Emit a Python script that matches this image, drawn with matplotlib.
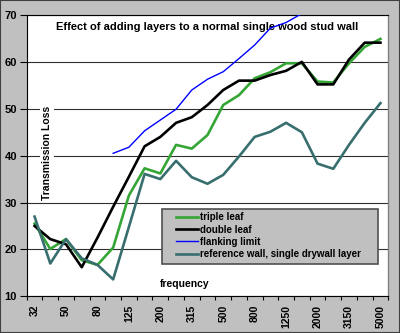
import numpy as np
import matplotlib
matplotlib.use("Agg")
import matplotlib.pyplot as plt
from matplotlib.patches import Rectangle

freqs = ["32", "40", "50", "63", "80", "100", "125", "160", "200", "250", "315", "400",
         "500", "630", "800", "1000", "1250", "1600", "2000", "2500", "3150", "4000", "5000"]
triple_leaf = [25.5, 20.1, 22.2, 17.7, 16.7, 20.4, 31.5, 37.3, 36.2, 42.3, 41.5, 44.4,
               50.8, 52.9, 56.5, 57.8, 59.7, 59.7, 55.8, 55.6, 59.7, 63.2, 64.9]
double_leaf = [25.0, 22.2, 21.1, 16.2, 22.5, 29.1, 35.5, 42.0, 44.0, 47.0, 48.2, 50.8,
               54.0, 56.0, 56.0, 57.2, 58.1, 60.0, 55.2, 55.2, 60.5, 64.1, 64.1]
flanking = [np.nan, np.nan, np.nan, np.nan, np.nan, 40.5, 41.8, 45.3, 47.6, 49.9, 54.0, 56.3,
            57.9, 60.7, 63.6, 67.2, 68.4, 70.3, np.nan, np.nan, np.nan, np.nan, np.nan]
reference = [27.0, 17.0, 22.2, 18.1, 16.7, 13.6, 24.8, 36.1, 35.0, 38.9, 35.4, 34.0,
             35.9, 39.8, 44.0, 45.1, 47.0, 45.0, 38.3, 37.2, 42.3, 47.0, 51.2]
yticks = [10, 20, 30, 40, 50, 60, 70]

plt.rcParams['font.family'] = ['Liberation Sans', 'DejaVu Sans']
plt.rcParams['font.weight'] = 'bold'

bg = '#c0c0c0'
W, H = 400.0, 333.0
fig = plt.figure(figsize=(4.0, 3.33), dpi=100, facecolor=bg)
L, R, T, B = 26.7, 388.3, 15.0, 296.3
ax = fig.add_axes([L/W, 1-B/H, (R-L)/W, (B-T)/H])
ax.set_facecolor('white')

def ax_xy(px, py):
    return ((px-L)/(R-L), (B-py)/(B-T))

x = np.arange(len(freqs))
ax.plot(x, triple_leaf, color='#35a535', lw=1.9, label='triple leaf', zorder=3)
ax.plot(x, double_leaf, color='black', lw=1.9, label='double leaf', zorder=4)
ax.plot(x, flanking, color='#0000ff', lw=1.0, label='flanking limit', zorder=5)
ax.plot(x, reference, color='#386e6e', lw=1.9, label='reference wall, single drywall layer', zorder=6)

ax.set_xlim(-0.5, len(freqs)-0.5)
ax.set_ylim(10, 70)
ax.set_yticks(yticks)
ax.set_yticklabels([str(v) for v in yticks], fontsize=8, fontweight='bold')
ax.yaxis.grid(True, color='#303030', lw=0.8)
ax.set_axisbelow(True)

ax.set_xticks(x[::2])
ax.set_xticklabels(freqs[::2], rotation=90, fontsize=7.5, fontweight='bold')
ax.set_xticks(np.arange(-0.5, len(freqs)), minor=True)
ax.tick_params(axis='x', which='major', length=0, pad=6)
ax.tick_params(axis='x', which='minor', length=3, width=0.8, direction='out')
ax.tick_params(axis='y', length=5, width=0.8, pad=2)

for s in ['left', 'bottom', 'top']:
    ax.spines[s].set_color('black')
    ax.spines[s].set_linewidth(0.8)
ax.spines['right'].set_color('#808080')
ax.spines['right'].set_linewidth(1.0)

ax.text(0.5, 0.957, 'Effect of adding layers to a normal single wood stud wall',
        transform=ax.transAxes, ha='center', va='center', fontsize=8, fontweight='bold')
ax.text(*ax_xy(47, 153), 'Transmission Loss', transform=ax.transAxes, rotation=90,
        ha='center', va='center', fontsize=7.5, fontweight='bold',
        bbox=dict(facecolor='white', edgecolor='none', pad=1.5), zorder=2)
ax.text(*ax_xy(185, 284), 'frequency', transform=ax.transAxes,
        ha='center', va='center', fontsize=7.5, fontweight='bold')

# legend frame
x0, y0 = ax_xy(162, 263.5)
x1, y1 = ax_xy(377.5, 209.3)
frame = Rectangle((x0, y0), x1-x0, y1-y0, transform=ax.transAxes, facecolor=bg,
                  edgecolor='#505050', lw=1.2, zorder=9)
ax.add_patch(frame)
leg = ax.legend(loc='upper left', bbox_to_anchor=ax_xy(176, 212.5),
                fontsize=7, frameon=False, borderaxespad=0, borderpad=0,
                handlelength=2.3, handletextpad=0.2, labelspacing=0.22)
leg.set_zorder(10)

fig.patches.append(Rectangle((0, 0), 1, 1, transform=fig.transFigure, fill=False,
                             edgecolor='#404040', lw=1.5))
fig.savefig('out.png', dpi=100, facecolor=bg)
